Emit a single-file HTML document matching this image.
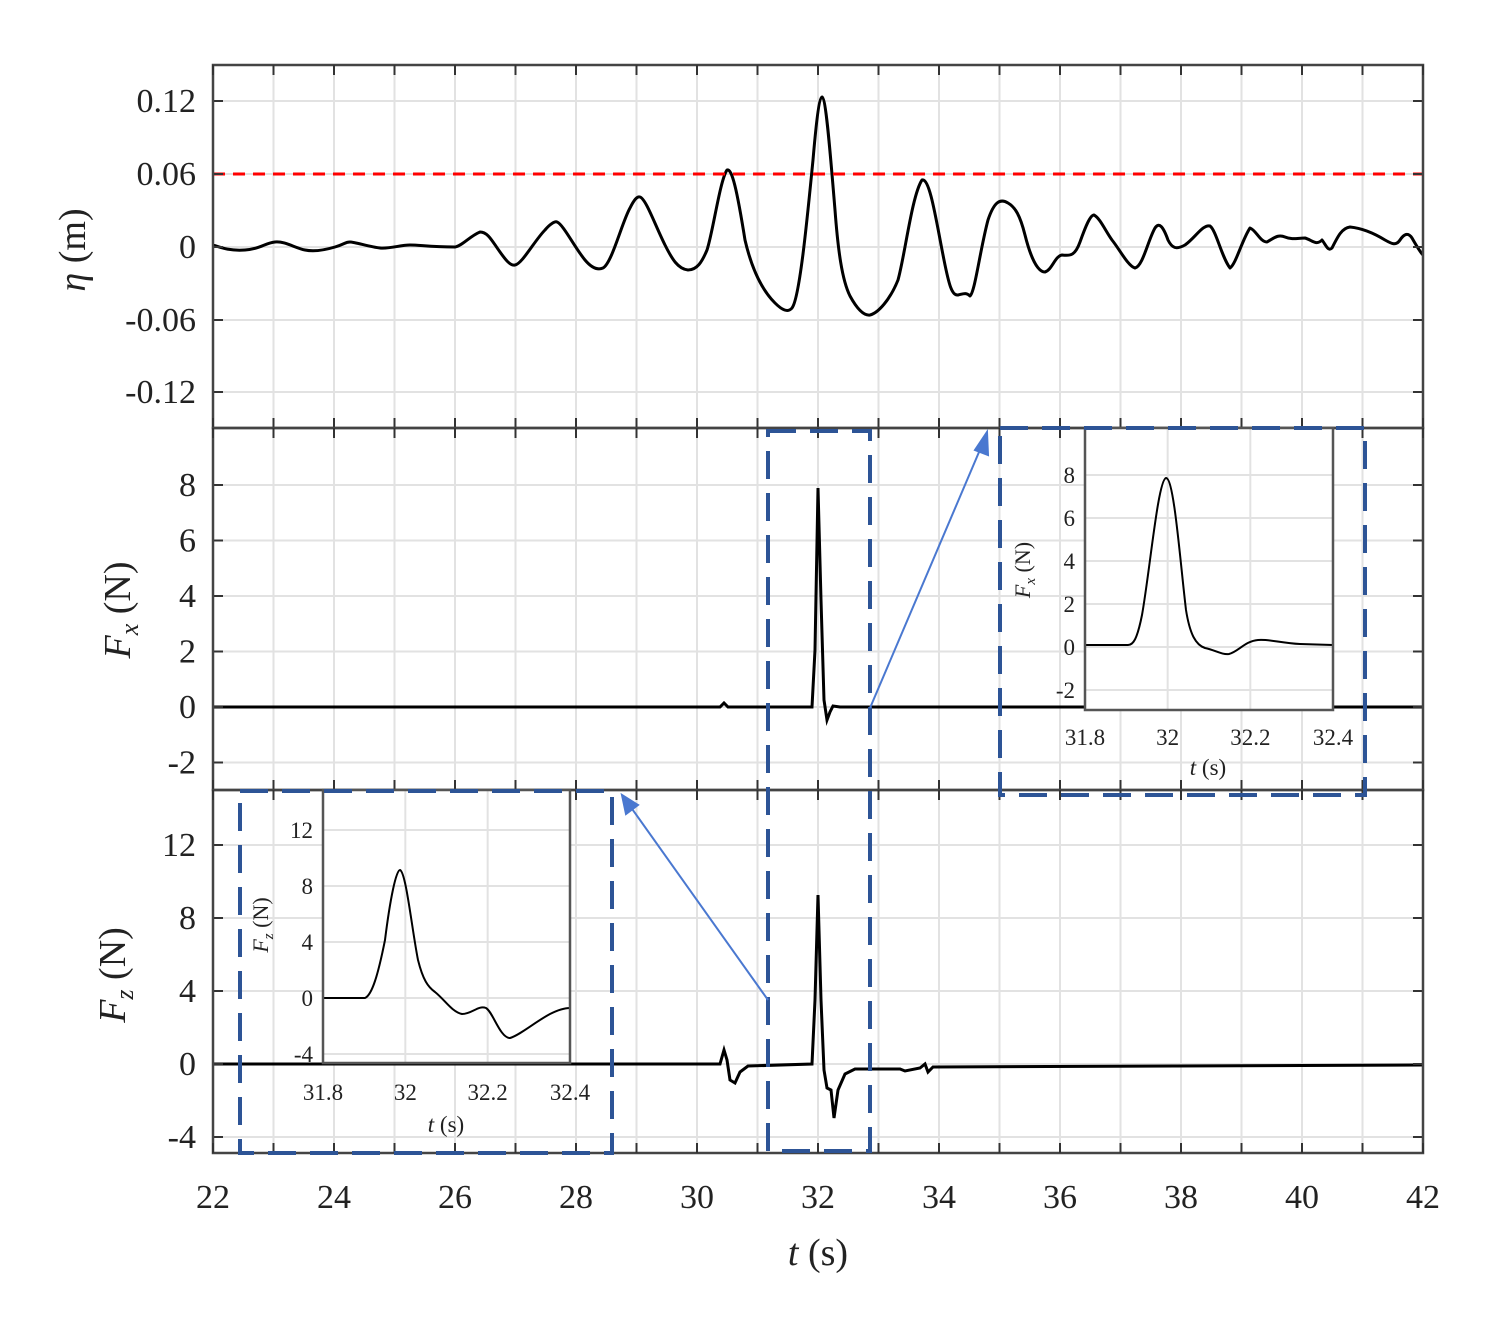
<!DOCTYPE html>
<html><head><meta charset="utf-8"><style>
html,body{margin:0;padding:0;background:#fff}
svg text{font-family:"Liberation Serif",serif;fill:#222}
</style></head><body>
<svg id="s" width="1507" height="1332" xmlns="http://www.w3.org/2000/svg">
<rect width="1507" height="1332" fill="#fff"/>
<g id="grid" stroke="#e2e2e2" stroke-width="2"></g>
<g id="ins" ></g>
<!-- main curves -->
<path fill="none" stroke="#000" stroke-width="3" stroke-linejoin="round" d="M213,245 C222,248 230,251 245,250 S265,243 275,242 S295,248 305,250 S325,250 335,247 S345,242 350,242 S370,247 380,248 S400,245 410,245 S430,247 455,247 C462,246 470,236 480,232 C488,232 492,241 500,252 C505,259 510,266 515,265 C522,264 535,240 545,230 C550,224 555,221 557,222 C563,224 575,248 585,260 C590,266 596,271 603,268 C612,263 622,222 630,208 C634,200 637,196 640,197 C646,199 655,225 665,245 C672,259 678,269 688,270 C697,270 702,262 707,250 C713,232 720,180 727,170 C732,168 737,190 745,240 C752,270 762,290 775,303 C782,310 788,313 792,308 C800,298 808,210 813,160 C816,125 819,98 822,97 C826,98 830,150 835,210 C838,250 842,280 850,296 C856,307 863,316 870,315 C878,313 890,300 898,280 C905,255 912,195 922,180 C930,178 936,220 944,260 C949,285 952,296 958,295 C963,294 966,292 970,296 C975,292 980,250 988,220 C994,202 1000,198 1008,203 C1015,207 1020,215 1025,235 C1030,255 1037,272 1045,272 C1052,270 1055,256 1062,255 C1070,256 1075,256 1080,242 C1085,228 1090,215 1094,215 C1100,218 1106,232 1112,240 C1120,250 1128,266 1135,268 C1143,266 1148,240 1155,228 C1159,222 1163,226 1168,240 C1172,248 1176,250 1185,245 C1195,238 1203,224 1210,226 C1216,230 1222,258 1230,268 C1236,264 1242,240 1250,228 C1256,230 1260,242 1267,242 C1274,238 1278,234 1285,237 C1292,240 1298,238 1305,238 C1312,240 1316,246 1322,240 C1326,245 1328,252 1332,248 C1338,236 1342,228 1350,227 C1360,228 1372,232 1385,240 C1392,244 1396,246 1400,240 C1404,234 1408,232 1412,238 C1416,245 1420,252 1423,255"/>
<line x1="213" y1="174" x2="1423" y2="174" stroke="#f00" stroke-width="3" stroke-dasharray="12,8"/>
<path fill="none" stroke="#000" stroke-width="3" d="M213,707 L720,707 L724,703 L728,707 L812,707 L815,650 L818,488 L821,600 L824,700 L827,720 L830,712 L833,706 L840,707 L1423,707"/>
<path fill="none" stroke="#000" stroke-width="3" d="M213,1064 L720,1064 L724,1050 L727,1060 L730,1080 L735,1083 L740,1072 L748,1066 L812,1064 L815,1000 L818,895 L821,1000 L824,1070 L827,1088 L831,1090 L834,1118 L838,1090 L845,1074 L855,1069 L900,1069 L905,1071 L920,1068 L925,1064 L928,1072 L933,1067 L1423,1065"/>
<g id="frames"></g>
<!-- insets -->
<g>
<rect x="1085" y="428" width="248" height="282" fill="#fff"/>
<g id="ig1" stroke="#e2e2e2" stroke-width="2"></g>
<path fill="none" stroke="#000" stroke-width="2" d="M1085,645 L1128,645 C1133,645 1137,640 1142,615 C1150,570 1158,480 1166,478 C1174,478 1180,560 1186,610 C1190,635 1196,645 1205,648 C1215,650 1222,655 1229,654 C1238,652 1245,641 1258,640 C1270,639 1280,643 1300,644 L1333,645"/>
<rect x="1085" y="428" width="248" height="282" fill="none" stroke="#555" stroke-width="2.5"/>
<rect x="323" y="790" width="247" height="273" fill="#fff"/>
<g id="ig2" stroke="#e2e2e2" stroke-width="2"></g>
<path fill="none" stroke="#000" stroke-width="2" d="M323,998 L365,998 C372,995 378,975 385,940 C390,900 396,870 400,870 C406,872 412,930 418,960 C423,980 428,987 435,992 C445,1000 452,1012 462,1014 C472,1014 478,1005 486,1008 C493,1012 500,1038 510,1038 C520,1035 535,1022 550,1014 C558,1010 565,1008 570,1008"/>
<rect x="323" y="790" width="247" height="273" fill="none" stroke="#555" stroke-width="2.5"/>
</g>
<g id="lbl" font-size="30"></g>
<!-- dashed boxes -->
<g fill="none" stroke="#2d5496" stroke-width="4" stroke-dasharray="28,14">
<rect x="768" y="431" width="102" height="720"/>
<rect x="1000" y="428" width="365" height="367"/>
<rect x="240" y="791" width="372" height="362"/>
</g>
<g stroke="#4a78d0" stroke-width="2" fill="#4a78d0">
<line x1="870" y1="708" x2="982" y2="445"/><polygon points="987,432 975,450 988,455"/>
<line x1="768" y1="1000" x2="630" y2="806"/><polygon points="622,795 626,814 638,805"/>
</g>
<text x="818" y="1265" font-size="38" text-anchor="middle"><tspan font-style="italic">t</tspan> (s)</text>
<text transform="translate(85,250) rotate(-90)" font-size="38" text-anchor="middle"><tspan font-style="italic">η</tspan> (m)</text>
<text transform="translate(130,610) rotate(-90)" font-size="38" text-anchor="middle"><tspan font-style="italic">F<tspan font-size="26" dy="8">x</tspan></tspan><tspan dy="-8"> (N)</tspan></text>
<text transform="translate(125,975) rotate(-90)" font-size="38" text-anchor="middle"><tspan font-style="italic">F<tspan font-size="26" dy="8">z</tspan></tspan><tspan dy="-8"> (N)</tspan></text>
<text transform="translate(1030,570) rotate(-90)" font-size="22" text-anchor="middle" fill="#555"><tspan font-style="italic">F<tspan font-size="15" dy="5">x</tspan></tspan><tspan dy="-5"> (N)</tspan></text>
<text transform="translate(268,925) rotate(-90)" font-size="22" text-anchor="middle" fill="#555"><tspan font-style="italic">F<tspan font-size="15" dy="5">z</tspan></tspan><tspan dy="-5"> (N)</tspan></text>
<text x="1208" y="775" font-size="23" text-anchor="middle"><tspan font-style="italic">t</tspan> (s)</text>
<text x="446" y="1132" font-size="23" text-anchor="middle"><tspan font-style="italic">t</tspan> (s)</text>
</svg>
<script>
var NS="http://www.w3.org/2000/svg";
function el(p,t,a,txt){var e=document.createElementNS(NS,t);for(var k in a)e.setAttribute(k,a[k]);if(txt!==undefined)e.textContent=txt;document.getElementById(p).appendChild(e);return e;}
var L=213,R=1423;
for(var k=0;k<=20;k++){var x=L+60.5*k;el("grid","line",{x1:x,y1:65,x2:x,y2:1153});}
var panels=[[65,428,[[101,"0.12"],[174,"0.06"],[247,"0"],[320,"-0.06"],[392,"-0.12"]]],
[428,790,[[485,"8"],[540.5,"6"],[596,"4"],[651.5,"2"],[707,"0"],[762.5,"-2"]]],
[790,1153,[[845,"12"],[918,"8"],[991,"4"],[1064,"0"],[1137,"-4"]]]];
panels.forEach(function(p){p[2].forEach(function(t){el("grid","line",{x1:L,y1:t[0],x2:R,y2:t[0]});
el("frames","line",{x1:L,y1:t[0],x2:L+10,y2:t[0],stroke:"#333","stroke-width":2});
el("frames","line",{x1:R-10,y1:t[0],x2:R,y2:t[0],stroke:"#333","stroke-width":2});
el("lbl","text",{x:196,y:t[0]+11,"text-anchor":"end","font-size":34},t[1]);});
el("frames","rect",{x:L,y:p[0],width:R-L,height:p[1]-p[0],fill:"none",stroke:"#444","stroke-width":2.5});
for(var k=0;k<=20;k++){var x=L+60.5*k;el("frames","line",{x1:x,y1:p[1],x2:x,y2:p[1]-10,stroke:"#333","stroke-width":2});el("frames","line",{x1:x,y1:p[0],x2:x,y2:p[0]+10,stroke:"#333","stroke-width":2});}});
for(var k=0;k<=10;k++){el("lbl","text",{x:L+121*k,y:1208,"text-anchor":"middle","font-size":34},String(22+2*k));}
// inset 1
var xs=["31.8","32","32.2","32.4"];
[[1085,1333,428,710,[[475,"8"],[518,"6"],[561,"4"],[604,"2"],[647,"0"],[690,"-2"]],"ig1",745],
 [323,570,790,1063,[[830,"12"],[886,"8"],[942,"4"],[998,"0"],[1054,"-4"]],"ig2",1100]].forEach(function(q){
 for(var i=0;i<4;i++){var x=q[0]+(q[1]-q[0])*i/3;el(q[5],"line",{x1:x,y1:q[2],x2:x,y2:q[3]});el("lbl","text",{x:x,y:q[6],"text-anchor":"middle","font-size":23,fill:"#444"},xs[i]);}
 q[4].forEach(function(t){el(q[5],"line",{x1:q[0],y1:t[0],x2:q[1],y2:t[0]});el("lbl","text",{x:q[0]-10,y:t[0]+8,"text-anchor":"end","font-size":23,fill:"#444"},t[1]);});});
</script>
</body></html>
